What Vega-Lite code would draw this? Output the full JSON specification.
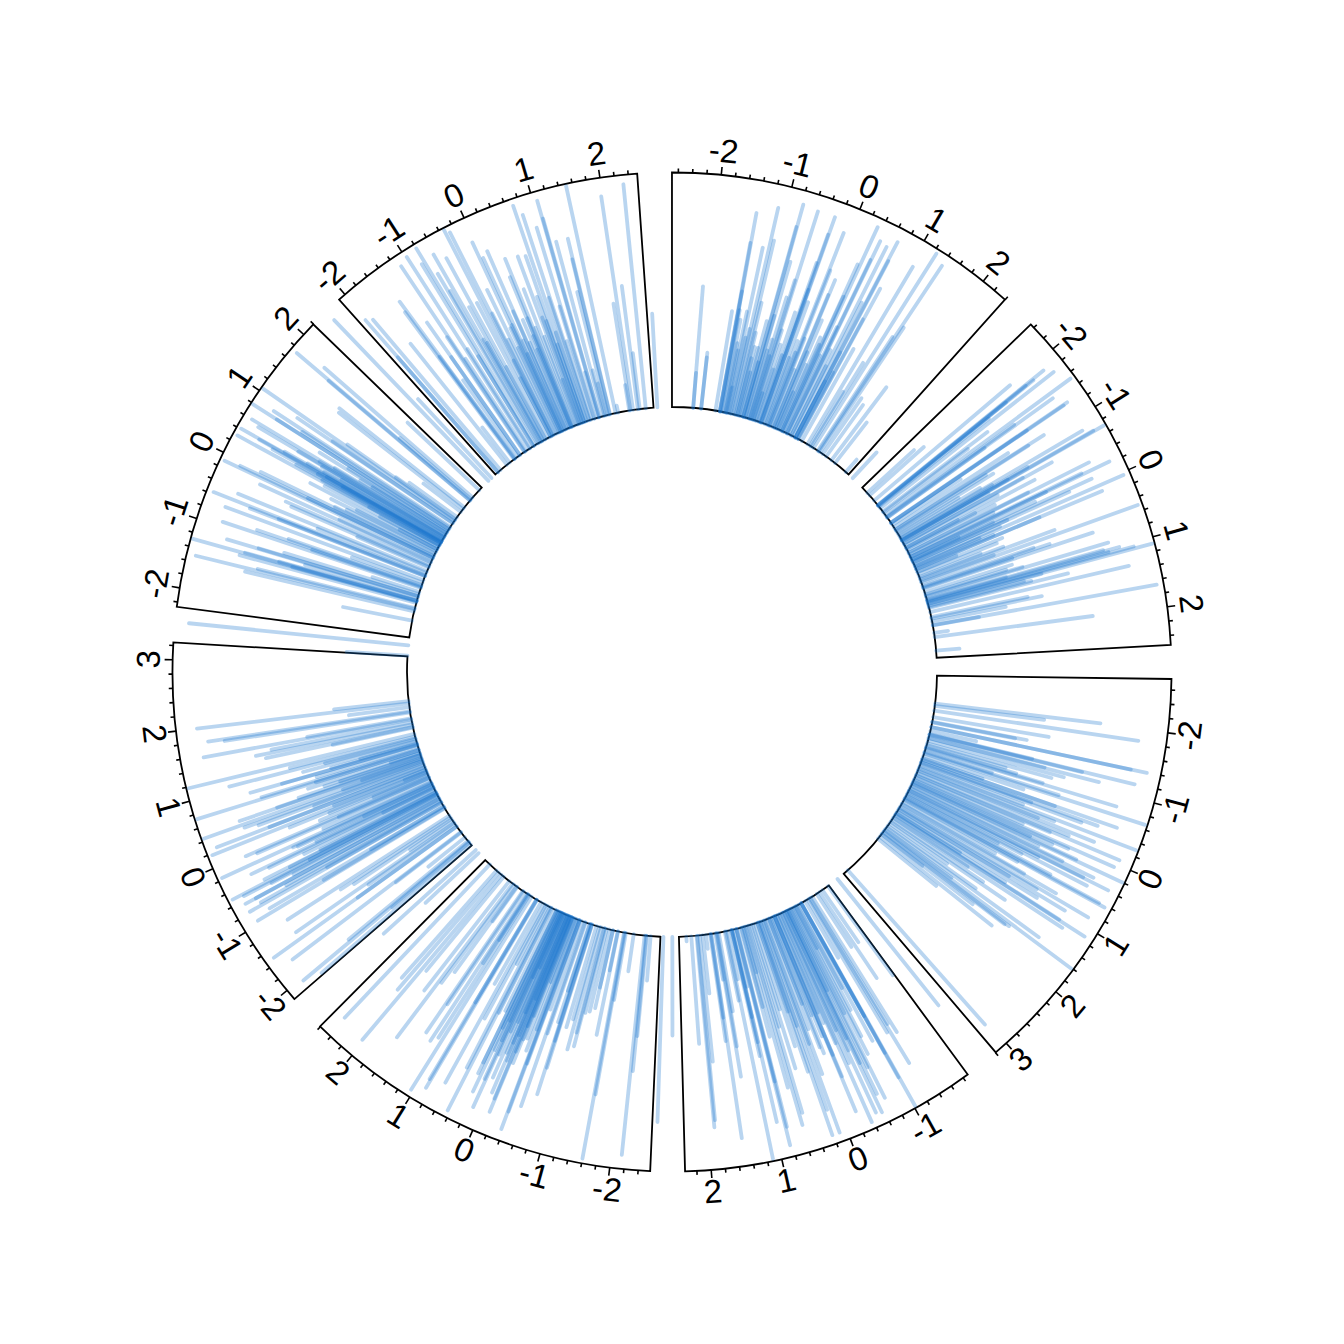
{"$schema":"https://vega.github.io/schema/vega-lite/v6.json","width":1344,"height":1344,"padding":0,"autosize":{"type":"fit","contains":"padding"},"background":"white","view":{"stroke":null},
"datasets":{
"sectors":[{"s":1,"zero":22.1,"k":8.22,"xmin":-2.689,"xmax":2.397},{"s":2,"zero":66.1,"k":8.2,"xmin":-2.463,"xmax":2.537},{"s":3,"zero":113.4,"k":8.2,"xmin":-2.756,"xmax":3.195},{"s":4,"zero":159.1,"k":8.2,"xmin":-1.878,"xmax":2.366},{"s":5,"zero":203.5,"k":8.17,"xmin":-2.57,"xmax":2.607},{"s":6,"zero":246.8,"k":8.2,"xmin":-2.159,"xmax":3.244},{"s":7,"zero":296.1,"k":8.2,"xmin":-2.268,"xmax":2.195},{"s":8,"zero":335.4,"k":8.15,"xmin":-2.11,"xmax":2.528}],
"ticks":[
{"s":1,"t":[-2.6,-2.4,-2.2,-2,-1.8,-1.6,-1.4,-1.2,-1,-0.8,-0.6,-0.4,-0.2,0,0.2,0.4,0.6,0.8,1,1.2,1.4,1.6,1.8,2,2.2,2.4]},
{"s":2,"t":[-2.4,-2.2,-2,-1.8,-1.6,-1.4,-1.2,-1,-0.8,-0.6,-0.4,-0.2,0,0.2,0.4,0.6,0.8,1,1.2,1.4,1.6,1.8,2,2.2,2.4]},
{"s":3,"t":[-2.6,-2.4,-2.2,-2,-1.8,-1.6,-1.4,-1.2,-1,-0.8,-0.6,-0.4,-0.2,0,0.2,0.4,0.6,0.8,1,1.2,1.4,1.6,1.8,2,2.2,2.4,2.6,2.8,3,3.2]},
{"s":4,"t":[-1.8,-1.6,-1.4,-1.2,-1,-0.8,-0.6,-0.4,-0.2,0,0.2,0.4,0.6,0.8,1,1.2,1.4,1.6,1.8,2,2.2]},
{"s":5,"t":[-2.4,-2.2,-2,-1.8,-1.6,-1.4,-1.2,-1,-0.8,-0.6,-0.4,-0.2,0,0.2,0.4,0.6,0.8,1,1.2,1.4,1.6,1.8,2,2.2,2.4,2.6]},
{"s":6,"t":[-2,-1.8,-1.6,-1.4,-1.2,-1,-0.8,-0.6,-0.4,-0.2,0,0.2,0.4,0.6,0.8,1,1.2,1.4,1.6,1.8,2,2.2,2.4,2.6,2.8,3,3.2]},
{"s":7,"t":[-2.2,-2,-1.8,-1.6,-1.4,-1.2,-1,-0.8,-0.6,-0.4,-0.2,0,0.2,0.4,0.6,0.8,1,1.2,1.4,1.6,1.8,2,2.2]},
{"s":8,"t":[-2,-1.8,-1.6,-1.4,-1.2,-1,-0.8,-0.6,-0.4,-0.2,0,0.2,0.4,0.6,0.8,1,1.2,1.4,1.6,1.8,2,2.2,2.4]}],
"spikes":[
{"s":1,"x":-2.13,"h":0.52},{"s":1,"x":-2.13,"h":0.15},{"s":1,"x":-1.92,"h":0.24},{"s":1,"x":-1.92,"h":0.22},{"s":1,"x":-1.54,"h":0.43},{"s":1,"x":-1.42,"h":0.86},{"s":1,"x":-1.43,"h":0.73},{"s":1,"x":-1.42,"h":0.52},{"s":1,"x":-1.4,"h":0.44},{"s":1,"x":-1.26,"h":0.44},{"s":1,"x":-1.22,"h":0.72},{"s":1,"x":-1.07,"h":0.76},{"s":1,"x":-1.12,"h":0.9},{"s":1,"x":-1.03,"h":0.49},{"s":1,"x":-0.91,"h":0.19},{"s":1,"x":-1.14,"h":0.37},{"s":1,"x":-0.78,"h":0.94},{"s":1,"x":-0.79,"h":0.84},{"s":1,"x":-0.55,"h":0.93},{"s":1,"x":-0.73,"h":0.69},{"s":1,"x":-0.62,"h":0.54},{"s":1,"x":-0.29,"h":0.93},{"s":1,"x":-0.3,"h":0.85},{"s":1,"x":-0.09,"h":0.88},{"s":1,"x":-0.32,"h":0.72},{"s":1,"x":-0.39,"h":0.49},{"s":1,"x":-0.23,"h":0.55},{"s":1,"x":-0.07,"h":0.71},{"s":1,"x":0.06,"h":0.68},{"s":1,"x":0.05,"h":0.61},{"s":1,"x":0.33,"h":0.96},{"s":1,"x":0.45,"h":0.91},{"s":1,"x":0.57,"h":0.9},{"s":1,"x":0.68,"h":0.94},{"s":1,"x":0.29,"h":0.78},{"s":1,"x":0.44,"h":0.82},{"s":1,"x":0.69,"h":0.85},{"s":1,"x":1.05,"h":0.88},{"s":1,"x":1.24,"h":0.98},{"s":1,"x":1.4,"h":0.95},{"s":1,"x":0.78,"h":0.73},{"s":1,"x":0.62,"h":0.64},{"s":1,"x":0.3,"h":0.63},{"s":1,"x":0.77,"h":0.58},{"s":1,"x":0.22,"h":0.43},{"s":1,"x":0.88,"h":0.45},{"s":1,"x":1.17,"h":0.42},{"s":1,"x":1.44,"h":0.64},{"s":1,"x":1.37,"h":0.58},{"s":1,"x":1.81,"h":0.39},{"s":1,"x":1.13,"h":0.27},{"s":1,"x":1.53,"h":0.29},{"s":1,"x":1.64,"h":0.27},{"s":1,"x":1.93,"h":0.22},{"s":1,"x":2.54,"h":0.15},{"s":1,"x":2.3,"h":0.07},{"s":1,"x":-0.65,"h":0.35},{"s":1,"x":-0.16,"h":0.38},{"s":1,"x":0.69,"h":0.41},{"s":1,"x":0.69,"h":0.27},{"s":1,"x":0.75,"h":0.32},{"s":1,"x":0.16,"h":0.17},{"s":1,"x":-0.44,"h":0.23},{"s":1,"x":-0.5,"h":0.12},{"s":1,"x":-1.24,"h":0.11},{"s":1,"x":-1.28,"h":0.27},{"s":1,"x":-0.95,"h":0.3},{"s":1,"x":-0.85,"h":0.42},{"s":1,"x":-0.6,"h":0.28},{"s":1,"x":-0.05,"h":0.4},{"s":1,"x":0.12,"h":0.5},{"s":1,"x":0.42,"h":0.5},{"s":1,"x":-1.35,"h":0.4},{"s":1,"x":-1.32,"h":0.3},{"s":1,"x":-1.18,"h":0.33},{"s":1,"x":-1.0,"h":0.36},{"s":1,"x":-0.96,"h":0.25},{"s":1,"x":-0.88,"h":0.3},{"s":1,"x":-0.8,"h":0.24},{"s":1,"x":-0.74,"h":0.45},{"s":1,"x":-0.68,"h":0.3},{"s":1,"x":-0.52,"h":0.4},{"s":1,"x":-0.46,"h":0.34},{"s":1,"x":-0.36,"h":0.3},{"s":1,"x":-0.2,"h":0.3},{"s":1,"x":-0.12,"h":0.33},{"s":1,"x":0.0,"h":0.26},{"s":1,"x":0.1,"h":0.35},{"s":1,"x":0.18,"h":0.3},{"s":1,"x":0.26,"h":0.4},{"s":1,"x":0.36,"h":0.36},{"s":1,"x":0.5,"h":0.4},{"s":1,"x":0.56,"h":0.33},{"s":1,"x":-0.57,"h":0.62},{"s":1,"x":-0.3,"h":0.6},
{"s":2,"x":-1.85,"h":0.91},{"s":2,"x":-1.74,"h":0.94},{"s":2,"x":-1.83,"h":0.85},{"s":2,"x":-1.84,"h":0.81},{"s":2,"x":-2,"h":0.76},{"s":2,"x":-1.52,"h":0.98},{"s":2,"x":-1.44,"h":0.87},{"s":2,"x":-1.27,"h":0.91},{"s":2,"x":-1.26,"h":0.89},{"s":2,"x":-0.71,"h":0.99},{"s":2,"x":-0.72,"h":0.94},{"s":2,"x":-0.8,"h":0.9},{"s":2,"x":-1.05,"h":0.75},{"s":2,"x":-1.04,"h":0.67},{"s":2,"x":-1.46,"h":0.67},{"s":2,"x":-1.63,"h":0.56},{"s":2,"x":-1.12,"h":0.58},{"s":2,"x":-1.43,"h":0.51},{"s":2,"x":-2.18,"h":0.31},{"s":2,"x":-2.27,"h":0.27},{"s":2,"x":-0.61,"h":0.72},{"s":2,"x":-0.74,"h":0.62},{"s":2,"x":-0.34,"h":0.86},{"s":2,"x":-0.22,"h":0.94},{"s":2,"x":0.04,"h":0.97},{"s":2,"x":-0.1,"h":0.84},{"s":2,"x":-0.24,"h":0.81},{"s":2,"x":-0.95,"h":0.48},{"s":2,"x":-0.62,"h":0.58},{"s":2,"x":-0.49,"h":0.62},{"s":2,"x":-0.72,"h":0.52},{"s":2,"x":-0.06,"h":0.73},{"s":2,"x":0.13,"h":0.86},{"s":2,"x":-0.22,"h":0.64},{"s":2,"x":-0.35,"h":0.57},{"s":2,"x":0.51,"h":0.98},{"s":2,"x":0.13,"h":0.57},{"s":2,"x":-0.15,"h":0.58},{"s":2,"x":-0.46,"h":0.33},{"s":2,"x":-0.06,"h":0.44},{"s":2,"x":-0.13,"h":0.38},{"s":2,"x":0.43,"h":0.61},{"s":2,"x":0.68,"h":0.76},{"s":2,"x":0.22,"h":0.39},{"s":2,"x":0.2,"h":0.18},{"s":2,"x":0.9,"h":0.81},{"s":2,"x":1.06,"h":0.91},{"s":2,"x":1.09,"h":0.99},{"s":2,"x":1.01,"h":0.85},{"s":2,"x":0.99,"h":0.78},{"s":2,"x":0.63,"h":0.57},{"s":2,"x":0.6,"h":0.5},{"s":2,"x":0.39,"h":0.38},{"s":2,"x":0.78,"h":0.39},{"s":2,"x":0.88,"h":0.43},{"s":2,"x":1.32,"h":0.87},{"s":2,"x":1.21,"h":0.61},{"s":2,"x":1.5,"h":0.48},{"s":2,"x":1.46,"h":0.42},{"s":2,"x":1.67,"h":0.97},{"s":2,"x":1.57,"h":0.32},{"s":2,"x":1.68,"h":0.2},{"s":2,"x":1.99,"h":0.68},{"s":2,"x":1.88,"h":0.06},{"s":2,"x":2.35,"h":0.1},{"s":2,"x":-0.15,"h":0.22},{"s":2,"x":-1.8,"h":0.6},{"s":2,"x":-1.6,"h":0.45},{"s":2,"x":-1.2,"h":0.35},{"s":2,"x":-0.9,"h":0.3},{"s":2,"x":-0.5,"h":0.25},{"s":2,"x":0.05,"h":0.3},{"s":2,"x":0.35,"h":0.28},{"s":2,"x":0.98,"h":0.35},{"s":2,"x":1.15,"h":0.42},{"s":2,"x":-1.83,"h":0.7},{"s":2,"x":-1.26,"h":0.7},{"s":2,"x":-1.0,"h":0.45},{"s":2,"x":-0.85,"h":0.4},{"s":2,"x":-0.78,"h":0.45},{"s":2,"x":-0.68,"h":0.42},{"s":2,"x":-0.56,"h":0.45},{"s":2,"x":-0.42,"h":0.42},{"s":2,"x":-0.3,"h":0.4},{"s":2,"x":0.0,"h":0.4},{"s":2,"x":0.1,"h":0.36},{"s":2,"x":0.28,"h":0.36},{"s":2,"x":0.48,"h":0.33},{"s":2,"x":0.66,"h":0.4},{"s":2,"x":0.84,"h":0.36},{"s":2,"x":1.04,"h":0.8},{"s":2,"x":1.1,"h":0.5},{"s":2,"x":1.18,"h":0.45},
{"s":3,"x":-2.02,"h":0.71},{"s":3,"x":-1.96,"h":0.47},{"s":3,"x":-1.83,"h":0.88},{"s":3,"x":-1.66,"h":0.5},{"s":3,"x":-1.52,"h":0.36},{"s":3,"x":-1.53,"h":0.41},{"s":3,"x":-1.29,"h":0.2},{"s":3,"x":-1.39,"h":0.87},{"s":3,"x":-1.39,"h":0.94},{"s":3,"x":-1.19,"h":0.9},{"s":3,"x":-1.09,"h":0.75},{"s":3,"x":-1.18,"h":0.67},{"s":3,"x":-1.02,"h":0.6},{"s":3,"x":-0.82,"h":0.52},{"s":3,"x":-1.1,"h":0.51},{"s":3,"x":-1.2,"h":0.45},{"s":3,"x":-0.72,"h":0.3},{"s":3,"x":-0.54,"h":0.27},{"s":3,"x":-0.8,"h":0.85},{"s":3,"x":-0.67,"h":0.99},{"s":3,"x":-0.5,"h":0.88},{"s":3,"x":-0.43,"h":0.8},{"s":3,"x":-0.39,"h":0.73},{"s":3,"x":-0.29,"h":0.99},{"s":3,"x":-0.18,"h":0.81},{"s":3,"x":-0.07,"h":0.94},{"s":3,"x":0.05,"h":0.93},{"s":3,"x":0.2,"h":0.99},{"s":3,"x":0.32,"h":0.87},{"s":3,"x":0.18,"h":0.77},{"s":3,"x":0.12,"h":0.65},{"s":3,"x":0.38,"h":0.83},{"s":3,"x":0.47,"h":0.86},{"s":3,"x":0.39,"h":0.95},{"s":3,"x":0.63,"h":0.97},{"s":3,"x":0.61,"h":0.94},{"s":3,"x":0.87,"h":0.93},{"s":3,"x":1.13,"h":0.96},{"s":3,"x":0.96,"h":0.83},{"s":3,"x":0.8,"h":0.76},{"s":3,"x":1.2,"h":0.86},{"s":3,"x":1.12,"h":0.83},{"s":3,"x":1.61,"h":0.99},{"s":3,"x":1.52,"h":0.8},{"s":3,"x":1.66,"h":0.67},{"s":3,"x":1.68,"h":0.65},{"s":3,"x":1.83,"h":0.61},{"s":3,"x":1.34,"h":0.59},{"s":3,"x":1.29,"h":0.47},{"s":3,"x":1.47,"h":0.46},{"s":3,"x":1.74,"h":0.49},{"s":3,"x":1.9,"h":0.32},{"s":3,"x":0.53,"h":0.44},{"s":3,"x":-0.33,"h":0.47},{"s":3,"x":1.06,"h":0.32},{"s":3,"x":3.05,"h":0.88},{"s":3,"x":3.41,"h":0.69},{"s":3,"x":-0.9,"h":0.35},{"s":3,"x":-0.6,"h":0.45},{"s":3,"x":-0.2,"h":0.55},{"s":3,"x":0.0,"h":0.5},{"s":3,"x":0.25,"h":0.6},{"s":3,"x":0.5,"h":0.55},{"s":3,"x":0.72,"h":0.45},{"s":3,"x":0.95,"h":0.55},{"s":3,"x":1.22,"h":0.38},{"s":3,"x":1.4,"h":0.3},{"s":3,"x":1.58,"h":0.35},{"s":3,"x":1.75,"h":0.22},{"s":3,"x":-0.95,"h":0.55},{"s":3,"x":-0.85,"h":0.4},{"s":3,"x":-0.7,"h":0.6},{"s":3,"x":-0.5,"h":0.6},{"s":3,"x":-0.42,"h":0.5},{"s":3,"x":-0.25,"h":0.62},{"s":3,"x":-0.12,"h":0.7},{"s":3,"x":-0.05,"h":0.62},{"s":3,"x":0.08,"h":0.72},{"s":3,"x":0.15,"h":0.55},{"s":3,"x":0.3,"h":0.72},{"s":3,"x":0.42,"h":0.62},{"s":3,"x":0.58,"h":0.7},{"s":3,"x":0.66,"h":0.55},{"s":3,"x":0.78,"h":0.6},{"s":3,"x":0.9,"h":0.68},{"s":3,"x":1.02,"h":0.7},{"s":3,"x":1.08,"h":0.55},
{"s":4,"x":2.54,"h":0.42},{"s":4,"x":2.17,"h":0.02},{"s":4,"x":2.04,"h":0.46},{"s":4,"x":1.74,"h":0.25},{"s":4,"x":1.82,"h":0.54},{"s":4,"x":1.9,"h":0.82},{"s":4,"x":1.88,"h":0.79},{"s":4,"x":1.54,"h":0.46},{"s":4,"x":1.52,"h":0.36},{"s":4,"x":1.35,"h":0.49},{"s":4,"x":1.31,"h":0.34},{"s":4,"x":1.51,"h":0.88},{"s":4,"x":1.37,"h":0.62},{"s":4,"x":1.12,"h":0.99},{"s":4,"x":0.84,"h":0.95},{"s":4,"x":0.95,"h":0.84},{"s":4,"x":0.82,"h":0.87},{"s":4,"x":0.59,"h":0.88},{"s":4,"x":0.54,"h":0.83},{"s":4,"x":0.65,"h":0.71},{"s":4,"x":0.83,"h":0.67},{"s":4,"x":0.98,"h":0.55},{"s":4,"x":0.96,"h":0.49},{"s":4,"x":0.44,"h":0.64},{"s":4,"x":0.26,"h":0.67},{"s":4,"x":0.22,"h":0.96},{"s":4,"x":0.11,"h":0.96},{"s":4,"x":0.17,"h":0.85},{"s":4,"x":-0.22,"h":0.9},{"s":4,"x":-0.37,"h":0.97},{"s":4,"x":-0.56,"h":0.95},{"s":4,"x":-0.48,"h":0.94},{"s":4,"x":-0.69,"h":0.9},{"s":4,"x":-0.61,"h":0.87},{"s":4,"x":-1.02,"h":0.99},{"s":4,"x":-1.26,"h":0.82},{"s":4,"x":-1.01,"h":0.85},{"s":4,"x":-1.35,"h":0.68},{"s":4,"x":-1.21,"h":0.66},{"s":4,"x":-1.01,"h":0.73},{"s":4,"x":-0.93,"h":0.66},{"s":4,"x":-0.76,"h":0.7},{"s":4,"x":-0.23,"h":0.74},{"s":4,"x":-0.23,"h":0.64},{"s":4,"x":-0.07,"h":0.59},{"s":4,"x":-1.01,"h":0.55},{"s":4,"x":-1.29,"h":0.63},{"s":4,"x":-1.57,"h":0.44},{"s":4,"x":-1.85,"h":0.47},{"s":4,"x":-1.49,"h":0.27},{"s":4,"x":-1.67,"h":0.27},{"s":4,"x":-1.13,"h":0.28},{"s":4,"x":-0.83,"h":0.2},{"s":4,"x":-0.62,"h":0.38},{"s":4,"x":-0.06,"h":0.39},{"s":4,"x":0.18,"h":0.47},{"s":4,"x":0.39,"h":0.38},{"s":4,"x":0.72,"h":0.48},{"s":4,"x":0.96,"h":0.38},{"s":4,"x":0.91,"h":0.25},{"s":4,"x":1.07,"h":0.21},{"s":4,"x":1.65,"h":0.06},{"s":4,"x":0.63,"h":0.2},{"s":4,"x":-0.45,"h":0.55},{"s":4,"x":-0.3,"h":0.5},{"s":4,"x":-0.15,"h":0.45},{"s":4,"x":-0.55,"h":0.6},{"s":4,"x":-0.85,"h":0.5},{"s":4,"x":0.05,"h":0.7},{"s":4,"x":-0.9,"h":0.4},{"s":4,"x":-0.8,"h":0.62},{"s":4,"x":-0.72,"h":0.5},{"s":4,"x":-0.66,"h":0.75},{"s":4,"x":-0.58,"h":0.72},{"s":4,"x":-0.5,"h":0.65},{"s":4,"x":-0.42,"h":0.7},{"s":4,"x":-0.35,"h":0.6},{"s":4,"x":-0.28,"h":0.45},{"s":4,"x":-0.18,"h":0.55},{"s":4,"x":-0.1,"h":0.62},{"s":4,"x":0.0,"h":0.5},{"s":4,"x":0.08,"h":0.56},{"s":4,"x":0.25,"h":0.4},{"s":4,"x":0.33,"h":0.55},{"s":4,"x":0.5,"h":0.45},{"s":4,"x":0.7,"h":0.35},{"s":4,"x":1.15,"h":0.3},{"s":4,"x":1.4,"h":0.2},
{"s":5,"x":-2.65,"h":0.79},{"s":5,"x":-2.31,"h":0.19},{"s":5,"x":-2.21,"h":0.43},{"s":5,"x":-2.19,"h":0.58},{"s":5,"x":-2.15,"h":0.94},{"s":5,"x":-1.86,"h":0.16},{"s":5,"x":-1.65,"h":0.29},{"s":5,"x":-1.62,"h":0.7},{"s":5,"x":-1.6,"h":0.98},{"s":5,"x":-1.44,"h":0.45},{"s":5,"x":-1.3,"h":0.34},{"s":5,"x":-1.21,"h":0.36},{"s":5,"x":-1.08,"h":0.52},{"s":5,"x":-0.98,"h":0.54},{"s":5,"x":-0.93,"h":0.41},{"s":5,"x":-0.72,"h":0.52},{"s":5,"x":-0.73,"h":0.64},{"s":5,"x":-0.71,"h":0.76},{"s":5,"x":-0.53,"h":0.83},{"s":5,"x":-0.37,"h":0.95},{"s":5,"x":-0.38,"h":0.87},{"s":5,"x":-0.17,"h":0.67},{"s":5,"x":-0.12,"h":0.9},{"s":5,"x":-0.11,"h":0.84},{"s":5,"x":-0.04,"h":0.82},{"s":5,"x":0.13,"h":0.91},{"s":5,"x":0.23,"h":0.85},{"s":5,"x":0.44,"h":0.97},{"s":5,"x":0.66,"h":0.87},{"s":5,"x":0.87,"h":0.93},{"s":5,"x":1.04,"h":0.97},{"s":5,"x":0.89,"h":0.89},{"s":5,"x":0.48,"h":0.77},{"s":5,"x":0.28,"h":0.77},{"s":5,"x":0.28,"h":0.72},{"s":5,"x":0.2,"h":0.65},{"s":5,"x":1.65,"h":0.82},{"s":5,"x":2.03,"h":0.92},{"s":5,"x":2.44,"h":0.9},{"s":5,"x":1.19,"h":0.75},{"s":5,"x":1.32,"h":0.73},{"s":5,"x":1.11,"h":0.72},{"s":5,"x":1.29,"h":0.58},{"s":5,"x":2.12,"h":0.66},{"s":5,"x":2.2,"h":0.61},{"s":5,"x":1.76,"h":0.59},{"s":5,"x":1.95,"h":0.52},{"s":5,"x":1.6,"h":0.52},{"s":5,"x":1.52,"h":0.45},{"s":5,"x":0.89,"h":0.51},{"s":5,"x":1.16,"h":0.35},{"s":5,"x":1.5,"h":0.18},{"s":5,"x":1.14,"h":0.23},{"s":5,"x":0.55,"h":0.28},{"s":5,"x":0.18,"h":0.51},{"s":5,"x":-0.16,"h":0.5},{"s":5,"x":-0.1,"h":0.38},{"s":5,"x":-0.04,"h":0.59},{"s":5,"x":-0.18,"h":0.56},{"s":5,"x":0.12,"h":0.3},{"s":5,"x":0.07,"h":0.25},{"s":5,"x":-0.26,"h":0.29},{"s":5,"x":-0.67,"h":0.44},{"s":5,"x":-0.66,"h":0.3},{"s":5,"x":-1.06,"h":0.46},{"s":5,"x":-1.13,"h":0.37},{"s":5,"x":-1.3,"h":0.25},{"s":5,"x":-1.43,"h":0.17},{"s":5,"x":-0.39,"h":0.65},{"s":5,"x":-0.06,"h":0.67},{"s":5,"x":0.04,"h":0.76},{"s":5,"x":0.15,"h":0.78},{"s":5,"x":-0.3,"h":0.6},{"s":5,"x":-0.24,"h":0.55},{"s":5,"x":-0.02,"h":0.45},{"s":5,"x":0.08,"h":0.55},{"s":5,"x":-0.34,"h":0.5},{"s":5,"x":-0.2,"h":0.45},{"s":5,"x":-0.14,"h":0.62},{"s":5,"x":-0.08,"h":0.55},{"s":5,"x":0.0,"h":0.64},{"s":5,"x":0.03,"h":0.5},{"s":5,"x":0.1,"h":0.66},{"s":5,"x":0.16,"h":0.6},{"s":5,"x":0.24,"h":0.55},{"s":5,"x":0.33,"h":0.48},{"s":5,"x":0.42,"h":0.5},{"s":5,"x":0.6,"h":0.55},{"s":5,"x":0.75,"h":0.4},{"s":5,"x":-0.45,"h":0.4},{"s":5,"x":-0.55,"h":0.5},{"s":5,"x":-0.85,"h":0.45},
{"s":6,"x":2,"h":0.91},{"s":6,"x":1.79,"h":0.87},{"s":6,"x":1.76,"h":0.8},{"s":6,"x":1.57,"h":0.9},{"s":6,"x":1.44,"h":0.68},{"s":6,"x":1.37,"h":0.64},{"s":6,"x":1.49,"h":0.61},{"s":6,"x":1.6,"h":0.45},{"s":6,"x":2.06,"h":0.32},{"s":6,"x":1.9,"h":0.26},{"s":6,"x":1.35,"h":0.35},{"s":6,"x":1.18,"h":0.99},{"s":6,"x":1.06,"h":0.82},{"s":6,"x":0.88,"h":0.74},{"s":6,"x":0.76,"h":0.7},{"s":6,"x":0.88,"h":0.6},{"s":6,"x":1.11,"h":0.55},{"s":6,"x":0.91,"h":0.38},{"s":6,"x":0.73,"h":0.46},{"s":6,"x":0.6,"h":0.36},{"s":6,"x":0.93,"h":0.25},{"s":6,"x":0.73,"h":0.99},{"s":6,"x":0.51,"h":0.82},{"s":6,"x":0.39,"h":0.81},{"s":6,"x":0.35,"h":0.75},{"s":6,"x":0.44,"h":0.99},{"s":6,"x":0.26,"h":0.71},{"s":6,"x":0.52,"h":0.65},{"s":6,"x":0.13,"h":0.63},{"s":6,"x":0.26,"h":0.95},{"s":6,"x":0.18,"h":0.98},{"s":6,"x":-0.02,"h":0.85},{"s":6,"x":-0.05,"h":0.8},{"s":6,"x":-0.2,"h":0.65},{"s":6,"x":-0.33,"h":0.78},{"s":6,"x":-0.17,"h":0.98},{"s":6,"x":-0.3,"h":0.86},{"s":6,"x":-0.46,"h":0.82},{"s":6,"x":-0.51,"h":0.98},{"s":6,"x":-0.54,"h":0.93},{"s":6,"x":-0.65,"h":0.94},{"s":6,"x":-0.65,"h":0.89},{"s":6,"x":-0.78,"h":0.94},{"s":6,"x":-0.74,"h":0.88},{"s":6,"x":-0.88,"h":0.86},{"s":6,"x":-0.95,"h":0.93},{"s":6,"x":-1.17,"h":0.82},{"s":6,"x":-1.4,"h":0.82},{"s":6,"x":-0.93,"h":0.6},{"s":6,"x":-1.52,"h":0.52},{"s":6,"x":-1.28,"h":0.5},{"s":6,"x":-1.23,"h":0.56},{"s":6,"x":-1.52,"h":0.96},{"s":6,"x":-1.7,"h":0.9},{"s":6,"x":-2.04,"h":0.92},{"s":6,"x":-2.13,"h":0.84},{"s":6,"x":-2,"h":0.66},{"s":6,"x":-2.32,"h":0.53},{"s":6,"x":-2.43,"h":0.31},{"s":6,"x":-2.06,"h":0.43},{"s":6,"x":-1.44,"h":0.45},{"s":6,"x":-1.72,"h":0.35},{"s":6,"x":-1.88,"h":0.2},{"s":6,"x":-1.34,"h":0.22},{"s":6,"x":3.26,"h":0.26},{"s":6,"x":0.61,"h":0.43},{"s":6,"x":-0.22,"h":0.63},{"s":6,"x":-0.44,"h":0.55},{"s":6,"x":-0.51,"h":0.61},{"s":6,"x":-0.77,"h":0.56},{"s":6,"x":-0.89,"h":0.36},{"s":6,"x":-0.34,"h":0.24},{"s":6,"x":-0.23,"h":0.32},{"s":6,"x":0.43,"h":0.36},{"s":6,"x":0.06,"h":0.25},{"s":6,"x":0.15,"h":0.1},{"s":6,"x":0.48,"h":0.27},{"s":6,"x":0.65,"h":0.13},{"s":6,"x":-0.6,"h":0.7},{"s":6,"x":-0.47,"h":0.7},{"s":6,"x":-0.38,"h":0.62},{"s":6,"x":-0.28,"h":0.55},{"s":6,"x":-0.12,"h":0.5},{"s":6,"x":-0.04,"h":0.42},{"s":6,"x":0.04,"h":0.5},{"s":6,"x":0.1,"h":0.45},{"s":6,"x":0.2,"h":0.42},{"s":6,"x":0.32,"h":0.5},{"s":6,"x":0.56,"h":0.55},{"s":6,"x":0.66,"h":0.5},{"s":6,"x":0.82,"h":0.45},{"s":6,"x":0.98,"h":0.5},{"s":6,"x":1.03,"h":0.4},{"s":6,"x":-0.7,"h":0.75},{"s":6,"x":-0.56,"h":0.8},
{"s":7,"x":-2.48,"h":0.94},{"s":7,"x":-1.82,"h":0.3},{"s":7,"x":-1.57,"h":0.74},{"s":7,"x":-1.51,"h":0.96},{"s":7,"x":-1.48,"h":0.69},{"s":7,"x":-1.27,"h":0.61},{"s":7,"x":-1.34,"h":0.78},{"s":7,"x":-1.28,"h":0.76},{"s":7,"x":-1.29,"h":0.99},{"s":7,"x":-1.16,"h":0.85},{"s":7,"x":-1.15,"h":0.71},{"s":7,"x":-0.93,"h":0.89},{"s":7,"x":-0.88,"h":0.74},{"s":7,"x":-0.9,"h":0.49},{"s":7,"x":-0.71,"h":0.9},{"s":7,"x":-0.6,"h":0.8},{"s":7,"x":-0.59,"h":0.67},{"s":7,"x":-0.57,"h":0.97},{"s":7,"x":-0.46,"h":0.87},{"s":7,"x":-0.32,"h":0.64},{"s":7,"x":-0.28,"h":0.67},{"s":7,"x":-0.07,"h":0.59},{"s":7,"x":0.18,"h":0.61},{"s":7,"x":-0.2,"h":0.8},{"s":7,"x":-0.07,"h":0.91},{"s":7,"x":-0.1,"h":0.98},{"s":7,"x":-0.02,"h":0.82},{"s":7,"x":0.37,"h":0.82},{"s":7,"x":0.3,"h":0.98},{"s":7,"x":0.41,"h":0.98},{"s":7,"x":0.4,"h":0.89},{"s":7,"x":0.55,"h":0.92},{"s":7,"x":0.6,"h":0.96},{"s":7,"x":0.79,"h":0.87},{"s":7,"x":0.43,"h":0.77},{"s":7,"x":0.71,"h":0.64},{"s":7,"x":0.32,"h":0.57},{"s":7,"x":0.99,"h":0.62},{"s":7,"x":1.09,"h":0.56},{"s":7,"x":0.84,"h":0.75},{"s":7,"x":0.98,"h":0.8},{"s":7,"x":0.87,"h":0.9},{"s":7,"x":0.79,"h":0.99},{"s":7,"x":1.05,"h":0.99},{"s":7,"x":1.44,"h":0.67},{"s":7,"x":1.5,"h":0.68},{"s":7,"x":1.74,"h":0.97},{"s":7,"x":1.84,"h":0.84},{"s":7,"x":1.73,"h":0.79},{"s":7,"x":2.1,"h":0.42},{"s":7,"x":1.78,"h":0.4},{"s":7,"x":1.35,"h":0.2},{"s":7,"x":1.11,"h":0.31},{"s":7,"x":1.18,"h":0.25},{"s":7,"x":0.13,"h":0.38},{"s":7,"x":0.3,"h":0.34},{"s":7,"x":0,"h":0.47},{"s":7,"x":-1.04,"h":0.21},{"s":7,"x":-0.78,"h":0.32},{"s":7,"x":0.18,"h":0.18},{"s":7,"x":-0.35,"h":0.33},{"s":7,"x":-0.18,"h":0.43},{"s":7,"x":0.41,"h":0.56},{"s":7,"x":0.05,"h":0.42},{"s":7,"x":0.39,"h":0.48},{"s":7,"x":0.67,"h":0.43},{"s":7,"x":0.68,"h":0.37},{"s":7,"x":0.23,"h":0.28},{"s":7,"x":0.5,"h":0.5},{"s":7,"x":0.45,"h":0.66},{"s":7,"x":0.52,"h":0.6},{"s":7,"x":-1.3,"h":0.55},{"s":7,"x":-1.2,"h":0.5},{"s":7,"x":-1.1,"h":0.6},{"s":7,"x":-0.85,"h":0.6},{"s":7,"x":-0.5,"h":0.5},{"s":7,"x":0.25,"h":0.55},{"s":7,"x":0.34,"h":0.7},{"s":7,"x":0.38,"h":0.6},{"s":7,"x":0.46,"h":0.58},{"s":7,"x":0.54,"h":0.72},{"s":7,"x":0.58,"h":0.62},{"s":7,"x":0.62,"h":0.55},{"s":7,"x":0.74,"h":0.5},{"s":7,"x":0.1,"h":0.5},
{"s":8,"x":2.63,"h":0.4},{"s":8,"x":2.32,"h":0.96},{"s":8,"x":2.16,"h":0.24},{"s":8,"x":2.11,"h":0.53},{"s":8,"x":1.91,"h":0.46},{"s":8,"x":1.88,"h":0.11},{"s":8,"x":1.98,"h":0.92},{"s":8,"x":1.58,"h":0.03},{"s":8,"x":1.51,"h":0.99},{"s":8,"x":1.36,"h":0.77},{"s":8,"x":1.17,"h":0.77},{"s":8,"x":1.07,"h":0.88},{"s":8,"x":1.06,"h":0.96},{"s":8,"x":0.94,"h":0.85},{"s":8,"x":0.8,"h":0.92},{"s":8,"x":0.71,"h":0.97},{"s":8,"x":1.35,"h":0.68},{"s":8,"x":1.3,"h":0.54},{"s":8,"x":0.64,"h":0.75},{"s":8,"x":0.52,"h":0.76},{"s":8,"x":0.32,"h":0.77},{"s":8,"x":0.28,"h":0.69},{"s":8,"x":0.59,"h":0.57},{"s":8,"x":0.6,"h":0.46},{"s":8,"x":0.65,"h":0.35},{"s":8,"x":0.11,"h":0.83},{"s":8,"x":-0.04,"h":0.89},{"s":8,"x":0.01,"h":0.81},{"s":8,"x":-0.25,"h":0.58},{"s":8,"x":-0.27,"h":0.97},{"s":8,"x":-0.33,"h":0.99},{"s":8,"x":-0.49,"h":0.88},{"s":8,"x":-0.63,"h":0.92},{"s":8,"x":-0.8,"h":0.98},{"s":8,"x":-0.98,"h":0.97},{"s":8,"x":-1.12,"h":0.95},{"s":8,"x":-0.85,"h":0.91},{"s":8,"x":-0.72,"h":0.84},{"s":8,"x":-0.69,"h":0.75},{"s":8,"x":-1.44,"h":0.83},{"s":8,"x":-1.47,"h":0.78},{"s":8,"x":-1.28,"h":0.69},{"s":8,"x":-1.93,"h":0.84},{"s":8,"x":-2.02,"h":0.86},{"s":8,"x":-2.36,"h":0.95},{"s":8,"x":-1.71,"h":0.66},{"s":8,"x":-2.02,"h":0.65},{"s":8,"x":-2.25,"h":0.46},{"s":8,"x":-1.45,"h":0.54},{"s":8,"x":-1.28,"h":0.51},{"s":8,"x":-1.08,"h":0.47},{"s":8,"x":-1.62,"h":0.19},{"s":8,"x":-0.4,"h":0.65},{"s":8,"x":-0.29,"h":0.36},{"s":8,"x":-0.61,"h":0.5},{"s":8,"x":0.29,"h":0.5},{"s":8,"x":1.21,"h":0.2},{"s":8,"x":1.03,"h":0.2},{"s":8,"x":1.25,"h":0.14},{"s":8,"x":0.5,"h":0.2},{"s":8,"x":-0.33,"h":0.28},{"s":8,"x":-0.48,"h":0.35},{"s":8,"x":-0.58,"h":0.48},{"s":8,"x":-1.35,"h":0.4},{"s":8,"x":-1.14,"h":0.59},{"s":8,"x":0.23,"h":0.36},{"s":8,"x":0.02,"h":0.36},{"s":8,"x":-0.07,"h":0.49},{"s":8,"x":0.1,"h":0.55},{"s":8,"x":0.42,"h":0.62},{"s":8,"x":0.78,"h":0.55},{"s":8,"x":-0.15,"h":0.68},{"s":8,"x":-0.85,"h":0.45},{"s":8,"x":-0.2,"h":0.45},{"s":8,"x":-0.1,"h":0.4},{"s":8,"x":-0.02,"h":0.5},{"s":8,"x":0.05,"h":0.42},{"s":8,"x":0.15,"h":0.4},{"s":8,"x":0.2,"h":0.5},{"s":8,"x":0.26,"h":0.42},{"s":8,"x":0.36,"h":0.45},{"s":8,"x":0.46,"h":0.4},{"s":8,"x":0.55,"h":0.48},{"s":8,"x":0.7,"h":0.4},{"s":8,"x":0.85,"h":0.35},{"s":8,"x":0.92,"h":0.5},{"s":8,"x":-0.55,"h":0.65},{"s":8,"x":-0.95,"h":0.5}]
},
"layer":[
{"data":{"name":"sectors"},"transform":[{"calculate":"(datum.zero+datum.k*datum.xmin)*PI/180","as":"t0"},{"calculate":"(datum.zero+datum.k*datum.xmax)*PI/180","as":"t1"},{"calculate":"0.5305","as":"r0"},{"calculate":"1","as":"r1"}],
"mark":{"type":"arc","fillOpacity":0,"stroke":"#000000","strokeWidth":1.8},
"encoding":{"theta":{"field":"t0","type":"quantitative","scale":null,"stack":false},"theta2":{"field":"t1"},"radius":{"field":"r1","type":"quantitative","scale":{"type":"linear","domain":[0,1.3453],"range":[0,672]}},"radius2":{"field":"r0"}}},
{"data":{"name":"spikes"},"transform":[{"lookup":"s","from":{"data":{"name":"sectors"},"key":"s","fields":["zero","k"]}},{"calculate":"(datum.zero+datum.k*datum.x)*PI/180","as":"th"},{"calculate":"0.5305*sin(datum.th)","as":"px0"},{"calculate":"0.5305*cos(datum.th)","as":"py0"},{"calculate":"(0.5305+0.4695*datum.h)*sin(datum.th)","as":"px1"},{"calculate":"(0.5305+0.4695*datum.h)*cos(datum.th)","as":"py1"}],
"mark":{"type":"rule","stroke":"#1874CD","strokeOpacity":0.3,"strokeWidth":3.8,"strokeCap":"round"},
"encoding":{"x":{"field":"px0","type":"quantitative","scale":{"domain":[-1.3453,1.3453],"nice":false,"zero":false},"axis":null},"y":{"field":"py0","type":"quantitative","scale":{"domain":[-1.3453,1.3453],"nice":false,"zero":false},"axis":null},"x2":{"field":"px1"},"y2":{"field":"py1"}}},
{"data":{"name":"ticks"},"transform":[{"flatten":["t"]},{"lookup":"s","from":{"data":{"name":"sectors"},"key":"s","fields":["zero","k"]}},{"calculate":"(datum.zero+datum.k*datum.t)*PI/180","as":"th"},{"calculate":"abs(datum.t-round(datum.t))<0.01?1.016:1.008","as":"rt"},{"calculate":"sin(datum.th)","as":"px0"},{"calculate":"cos(datum.th)","as":"py0"},{"calculate":"datum.rt*sin(datum.th)","as":"px1"},{"calculate":"datum.rt*cos(datum.th)","as":"py1"}],
"mark":{"type":"rule","stroke":"#000000","strokeWidth":1.6},
"encoding":{"x":{"field":"px0","type":"quantitative","scale":{"domain":[-1.3453,1.3453],"nice":false,"zero":false},"axis":null},"y":{"field":"py0","type":"quantitative","scale":{"domain":[-1.3453,1.3453],"nice":false,"zero":false},"axis":null},"x2":{"field":"px1"},"y2":{"field":"py1"}}},
{"data":{"name":"ticks"},"transform":[{"flatten":["t"]},{"filter":"abs(datum.t-round(datum.t))<0.01"},{"lookup":"s","from":{"data":{"name":"sectors"},"key":"s","fields":["zero","k"]}},{"calculate":"datum.zero+datum.k*datum.t","as":"deg"},{"calculate":"1.046*sin(datum.deg*PI/180)","as":"px"},{"calculate":"1.046*cos(datum.deg*PI/180)","as":"py"},{"calculate":"(datum.deg>90&&datum.deg<270)?datum.deg-180:datum.deg","as":"rot"},{"calculate":"(datum.rot+360)%360","as":"rot360"},{"calculate":"''+round(datum.t)","as":"lab"}],
"mark":{"type":"text","font":"Liberation Sans","fontSize":33,"align":"center","baseline":"middle","color":"#000000"},
"encoding":{"x":{"field":"px","type":"quantitative","scale":{"domain":[-1.3453,1.3453],"nice":false,"zero":false},"axis":null},"y":{"field":"py","type":"quantitative","scale":{"domain":[-1.3453,1.3453],"nice":false,"zero":false},"axis":null},"text":{"field":"lab","type":"nominal"},"angle":{"field":"rot360","type":"quantitative","scale":null}}}
]}
